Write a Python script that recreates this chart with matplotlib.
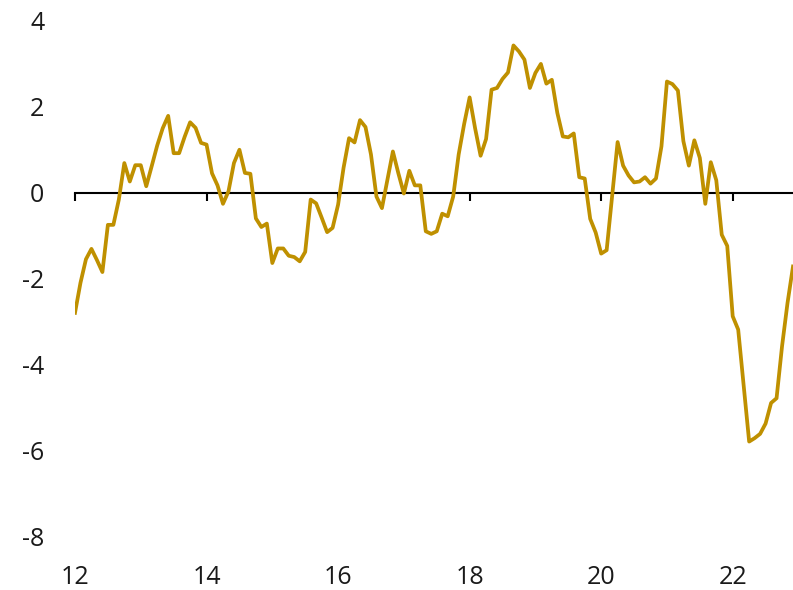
import numpy as np
import matplotlib
matplotlib.use("Agg")
import matplotlib.pyplot as plt

# monthly values, Jan 2012 - Dec 2022
vals_2012 = [-2.80, -2.10, -1.55, -1.31, -1.57, -1.85, -0.75, -0.75, -0.16, 0.69, 0.26, 0.64]
vals_2013 = [0.64, 0.15, 0.62, 1.10, 1.50, 1.79, 0.92, 0.92, 1.30, 1.64, 1.51, 1.16]
vals_2014 = [1.12, 0.45, 0.17, -0.26, 0.03, 0.69, 1.00, 0.46, 0.44, -0.60, -0.80, -0.72]
vals_2015 = [-1.64, -1.30, -1.30, -1.47, -1.50, -1.60, -1.38, -0.16, -0.25, -0.58, -0.92, -0.82]
vals_2016 = [-0.28, 0.58, 1.27, 1.17, 1.69, 1.53, 0.89, -0.09, -0.36, 0.30, 0.96, 0.45]
vals_2017 = [-0.02, 0.51, 0.17, 0.17, -0.90, -0.96, -0.90, -0.49, -0.55, -0.09, 0.89, 1.60]
vals_2018 = [2.22, 1.50, 0.86, 1.25, 2.40, 2.44, 2.65, 2.80, 3.43, 3.29, 3.10, 2.44]
vals_2019 = [2.79, 3.00, 2.54, 2.63, 1.86, 1.31, 1.29, 1.38, 0.36, 0.33, -0.61, -0.93]
vals_2020 = [-1.42, -1.34, -0.09, 1.18, 0.63, 0.40, 0.24, 0.26, 0.36, 0.21, 0.33, 1.08]
vals_2021 = [2.59, 2.53, 2.38, 1.20, 0.63, 1.22, 0.81, -0.26, 0.71, 0.29, -0.98, -1.24]
vals_2022 = [-2.88, -3.19, -4.50, -5.80, -5.72, -5.62, -5.38, -4.90, -4.79, -3.58, -2.57, -1.72]

values = (vals_2012 + vals_2013 + vals_2014 + vals_2015 + vals_2016 + vals_2017
          + vals_2018 + vals_2019 + vals_2020 + vals_2021 + vals_2022)
x = 2012 + np.arange(len(values)) / 12.0

xticks = [2012, 2014, 2016, 2018, 2020, 2022]
xtick_labels = ["12", "14", "16", "18", "20", "22"]
yticks = [-8, -6, -4, -2, 0, 2, 4]

plt.rcParams['font.family'] = ['Open Sans', 'DejaVu Sans']

W, H = 793, 590
fig = plt.figure(figsize=(W / 100, H / 100), dpi=100)
ax = fig.add_axes([75 / W, (H - 536) / H, (W - 75) / W, (536 - 21) / H])

ax.plot(x, values, color="#BF9000", lw=2.7, solid_joinstyle="round", zorder=3)

ax.set_xlim(2012, x[-1])
ax.set_ylim(-8, 4)

for s in ["top", "right", "left"]:
    ax.spines[s].set_visible(False)
ax.spines["bottom"].set_position(("data", 0))
ax.spines["bottom"].set_linewidth(1.5)
ax.spines["bottom"].set_zorder(1)

ax.set_xticks(xticks)
ax.tick_params(axis="x", direction="out", length=6, width=1.5, labelbottom=False)
ax.set_yticks(yticks)
ax.set_yticklabels([str(v) for v in yticks])
ax.tick_params(axis="y", length=0, pad=22, labelsize=18, colors="#1a1a1a")

# year labels sit under the plot, not on the zero line
sec = ax.secondary_xaxis("bottom")
sec.set_xticks(xticks)
sec.set_xticklabels(xtick_labels)
sec.spines["bottom"].set_visible(False)
sec.tick_params(length=0, pad=21, labelsize=18, colors="#1a1a1a")

fig.savefig("out.png", dpi=100)
